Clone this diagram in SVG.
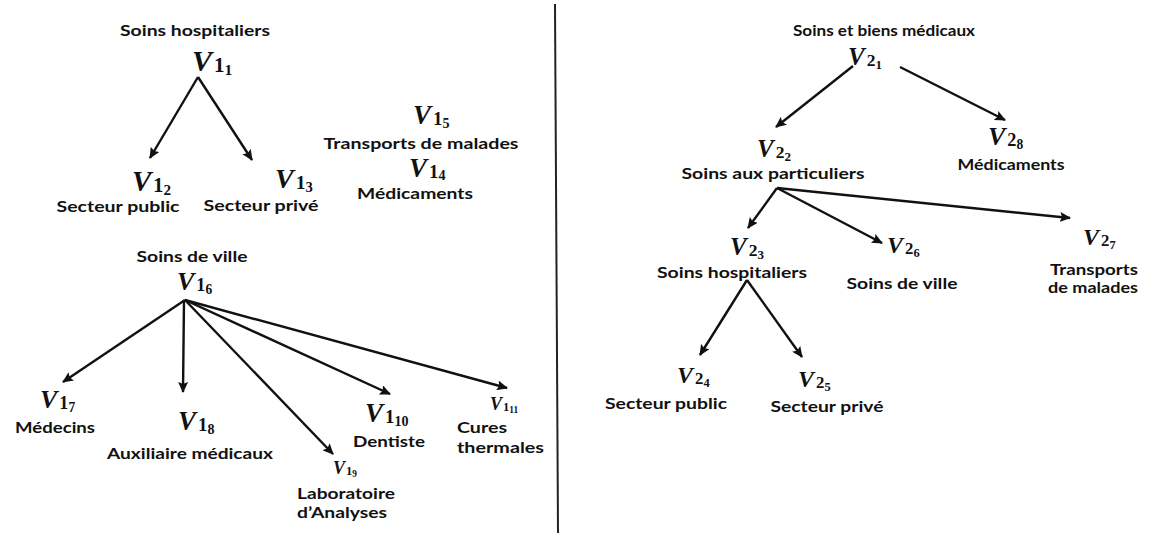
<svg xmlns="http://www.w3.org/2000/svg" width="1154" height="536" viewBox="0 0 1154 536">
  <defs>
    <style>
      .lbl { font-family: Lato, "Open Sans", "Liberation Sans", sans-serif; font-weight: 700; font-size: 16px; fill: #111; text-anchor: middle; }
      .lbl.sm { font-size: 14.5px; }
      .lbl.st { text-anchor: start; }
      .v { font-family: "Liberation Serif", "DejaVu Serif", serif; font-weight: 700; font-style: italic; fill: #111; }
      .v .a { font-style: normal; font-size: 0.7em; }
      .v .b { font-style: normal; font-size: 0.52em; }
      .edge { stroke: #111; stroke-width: 2.4; fill: none; marker-end: url(#head); }
      .rule { stroke: #222; stroke-width: 2; }
    </style>
    <marker id="head" viewBox="0 0 11 10" markerUnits="userSpaceOnUse" markerWidth="11" markerHeight="10" refX="10" refY="5" orient="auto">
      <path d="M0,0 L11,5 L0,10 L2,5 z" fill="#111"/>
    </marker>
  </defs>

  <rect width="1154" height="536" fill="#fff"/>

  <!-- vertical separator between the two trees -->
  <line class="rule" x1="555" y1="4" x2="558" y2="533"/>

  <g id="connectors">
    <!-- left: V1_1 -->
    <line class="edge" x1="198" y1="77" x2="150" y2="158"/>
    <line class="edge" x1="198" y1="77" x2="252" y2="160"/>
    <!-- left: V1_6 -->
    <line class="edge" x1="185" y1="300" x2="63" y2="382"/>
    <line class="edge" x1="184" y1="300" x2="183" y2="392"/>
    <line class="edge" x1="185" y1="300" x2="333" y2="454"/>
    <line class="edge" x1="185" y1="300" x2="390" y2="394"/>
    <line class="edge" x1="185" y1="300" x2="507" y2="388"/>
    <!-- right: V2_1 -->
    <line class="edge" x1="853" y1="66" x2="776" y2="127"/>
    <line class="edge" x1="900" y1="67" x2="1005" y2="120"/>
    <!-- right: V2_2 -->
    <line class="edge" x1="777" y1="188" x2="748" y2="228"/>
    <line class="edge" x1="777" y1="188" x2="882" y2="243"/>
    <line class="edge" x1="777" y1="188" x2="1070" y2="218"/>
    <!-- right: V2_3 -->
    <line class="edge" x1="747" y1="280" x2="700" y2="355"/>
    <line class="edge" x1="747" y1="280" x2="802" y2="357"/>
  </g>

  <!-- ===== left tree ===== -->
  <g id="v1_1">
    <text class="lbl" x="195" y="36" textLength="150" lengthAdjust="spacingAndGlyphs">Soins hospitaliers</text>
    <text class="v" x="192" y="71" font-size="30">V<tspan class="a" dx="2" dy="1">1</tspan><tspan class="b" dy="3">1</tspan></text>
  </g>
  <g id="v1_2">
    <text class="v" x="132" y="191" font-size="29">V<tspan class="a" dx="2" dy="1">1</tspan><tspan class="b" dy="3">2</tspan></text>
    <text class="lbl" x="118" y="212" textLength="123" lengthAdjust="spacingAndGlyphs">Secteur public</text>
  </g>
  <g id="v1_3">
    <text class="v" x="275" y="188" font-size="28">V<tspan class="a" dx="2" dy="1">1</tspan><tspan class="b" dy="3">3</tspan></text>
    <text class="lbl" x="261" y="211" textLength="115" lengthAdjust="spacingAndGlyphs">Secteur privé</text>
  </g>
  <g id="v1_5">
    <text class="v" x="413" y="124" font-size="27">V<tspan class="a" dx="2" dy="1">1</tspan><tspan class="b" dy="3">5</tspan></text>
    <text class="lbl" x="421" y="149" textLength="195" lengthAdjust="spacingAndGlyphs">Transports de malades</text>
  </g>
  <g id="v1_4">
    <text class="v" x="409" y="177" font-size="27">V<tspan class="a" dx="2" dy="1">1</tspan><tspan class="b" dy="2">4</tspan></text>
    <text class="lbl" x="415" y="199" font-size="15" textLength="116" lengthAdjust="spacingAndGlyphs">Médicaments</text>
  </g>
  <g id="v1_6">
    <text class="lbl" x="192" y="262" textLength="111" lengthAdjust="spacingAndGlyphs">Soins de ville</text>
    <text class="v" x="177" y="290" font-size="26">V<tspan class="a" dx="2" dy="1">1</tspan><tspan class="b" dy="3">6</tspan></text>
  </g>
  <g id="v1_7">
    <text class="v" x="40" y="408" font-size="26">V<tspan class="a" dx="2" dy="1">1</tspan><tspan class="b" dy="3">7</tspan></text>
    <text class="lbl" x="55" y="433" textLength="80" lengthAdjust="spacingAndGlyphs">Médecins</text>
  </g>
  <g id="v1_8">
    <text class="v" x="178" y="430" font-size="27">V<tspan class="a" dx="2" dy="1">1</tspan><tspan class="b" dy="3">8</tspan></text>
    <text class="lbl" x="190" y="459" textLength="166" lengthAdjust="spacingAndGlyphs">Auxiliaire médicaux</text>
  </g>
  <g id="v1_9">
    <text class="v" x="333" y="474" font-size="18">V<tspan class="a" dx="1" dy="1">1</tspan><tspan class="b" dy="2">9</tspan></text>
    <text class="lbl st" x="297" y="499" textLength="98" lengthAdjust="spacingAndGlyphs">Laboratoire</text>
    <text class="lbl st" x="297" y="518" textLength="90" lengthAdjust="spacingAndGlyphs">d’Analyses</text>
  </g>
  <g id="v1_10">
    <text class="v" x="365" y="422" font-size="27">V<tspan class="a" dx="2" dy="1">1</tspan><tspan class="b" dy="3">10</tspan></text>
    <text class="lbl" x="389" y="447" textLength="72" lengthAdjust="spacingAndGlyphs">Dentiste</text>
  </g>
  <g id="v1_11">
    <text class="v" x="490" y="410" font-size="18">V<tspan class="a" dx="1" dy="1">1</tspan><tspan class="b" dy="2">11</tspan></text>
    <text class="lbl st" x="457" y="433" textLength="50" lengthAdjust="spacingAndGlyphs">Cures</text>
    <text class="lbl st" x="457" y="453" textLength="87" lengthAdjust="spacingAndGlyphs">thermales</text>
  </g>

  <!-- ===== right tree ===== -->
  <g id="v2_1">
    <text class="lbl sm" x="884" y="36" textLength="182" lengthAdjust="spacingAndGlyphs">Soins et biens médicaux</text>
    <text class="v" x="848" y="65" font-size="25">V<tspan class="a" dx="2" dy="1">2</tspan><tspan class="b" dy="3">1</tspan></text>
  </g>
  <g id="v2_2">
    <text class="v" x="757" y="157" font-size="25">V<tspan class="a" dx="2" dy="1">2</tspan><tspan class="b" dy="3">2</tspan></text>
    <text class="lbl" x="773" y="179" textLength="183" lengthAdjust="spacingAndGlyphs">Soins aux particuliers</text>
  </g>
  <g id="v2_8">
    <text class="v" x="988" y="145" font-size="26">V<tspan class="a" dx="2" dy="1">2</tspan><tspan class="b" dy="3">8</tspan></text>
    <text class="lbl" x="1011" y="170" textLength="107" lengthAdjust="spacingAndGlyphs">Médicaments</text>
  </g>
  <g id="v2_3">
    <text class="v" x="730" y="255" font-size="25">V<tspan class="a" dx="2" dy="1">2</tspan><tspan class="b" dy="3">3</tspan></text>
    <text class="lbl" x="732" y="278" textLength="150" lengthAdjust="spacingAndGlyphs">Soins hospitaliers</text>
  </g>
  <g id="v2_4">
    <text class="v" x="677" y="383" font-size="24">V<tspan class="a" dx="2" dy="1">2</tspan><tspan class="b" dy="3">4</tspan></text>
    <text class="lbl" x="666" y="409" textLength="122" lengthAdjust="spacingAndGlyphs">Secteur public</text>
  </g>
  <g id="v2_5">
    <text class="v" x="798" y="387" font-size="24">V<tspan class="a" dx="2" dy="1">2</tspan><tspan class="b" dy="3">5</tspan></text>
    <text class="lbl" x="827" y="412" textLength="113" lengthAdjust="spacingAndGlyphs">Secteur privé</text>
  </g>
  <g id="v2_6">
    <text class="v" x="887" y="253" font-size="24">V<tspan class="a" dx="2" dy="1">2</tspan><tspan class="b" dy="3">6</tspan></text>
    <text class="lbl" x="902" y="289" textLength="111" lengthAdjust="spacingAndGlyphs">Soins de ville</text>
  </g>
  <g id="v2_7">
    <text class="v" x="1083" y="245" font-size="24">V<tspan class="a" dx="2" dy="1">2</tspan><tspan class="b" dy="3">7</tspan></text>
    <text class="lbl" x="1094" y="275" textLength="88" lengthAdjust="spacingAndGlyphs">Transports</text>
    <text class="lbl" x="1093" y="293" textLength="90" lengthAdjust="spacingAndGlyphs">de malades</text>
  </g>
</svg>
